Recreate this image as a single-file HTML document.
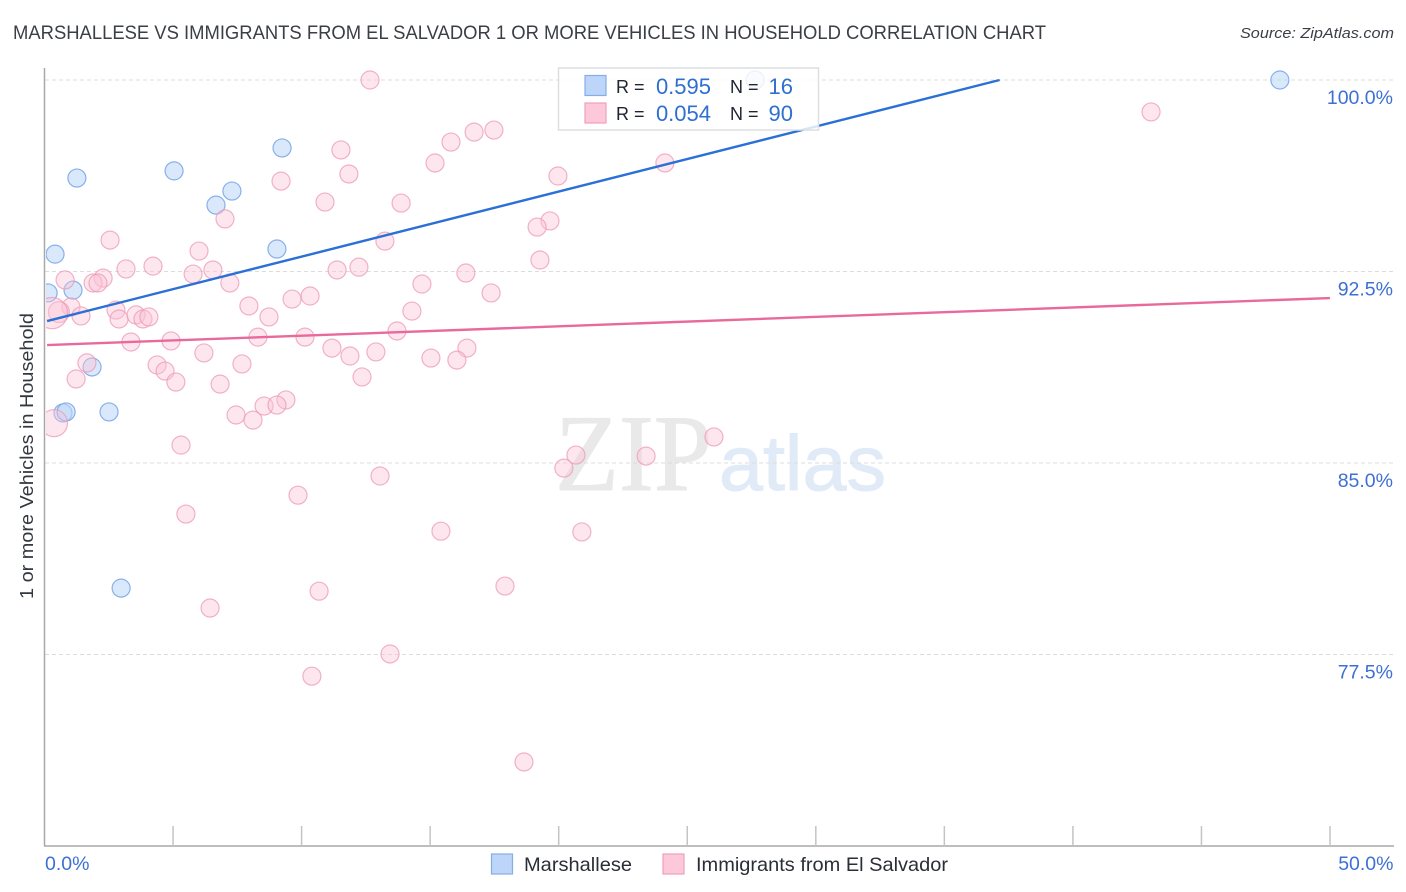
<!DOCTYPE html>
<html lang="en">
<head>
<meta charset="utf-8">
<title>Marshallese vs Immigrants from El Salvador Correlation Chart</title>
<style>
html,body{margin:0;padding:0;background:#fff;width:1406px;height:892px;overflow:hidden}
svg{display:block;font-family:"Liberation Sans",sans-serif}
</style>
</head>
<body>
<svg id="chart" xmlns="http://www.w3.org/2000/svg" width="1406" height="892" viewBox="0 0 1406 892">
  <defs>
    <clipPath id="plot-clip"><rect x="46" y="60" width="1360" height="786"/></clipPath>
  </defs>
  <text x="13" y="39" font-size="19" fill="#3a3e45" textLength="1033" lengthAdjust="spacingAndGlyphs">MARSHALLESE VS IMMIGRANTS FROM EL SALVADOR 1 OR MORE VEHICLES IN HOUSEHOLD CORRELATION CHART</text>
  <text x="1394" y="38" font-size="15" font-style="italic" fill="#3a3f47" text-anchor="end" textLength="154" lengthAdjust="spacingAndGlyphs">Source: ZipAtlas.com</text>

  <g id="watermark">
    <text x="555" y="490" font-family="'Liberation Serif',serif" font-size="109" fill="#e9e9e9" stroke="#e9e9e9" stroke-width="1" textLength="157" lengthAdjust="spacingAndGlyphs">ZIP</text>
    <text x="719" y="490" font-size="78" fill="#e1ebf8" stroke="#e1ebf8" stroke-width="1" textLength="167" lengthAdjust="spacingAndGlyphs">atlas</text>
  </g>

  <g id="grid"></g>
  <g id="axes"></g>
  <g id="points-blue" clip-path="url(#plot-clip)"></g>
  <g id="points-pink" clip-path="url(#plot-clip)"></g>
  <g id="trends"></g>
  <g id="ylabels"></g>
  <g id="xlabels"></g>

  <text transform="translate(33,456) rotate(-90)" font-size="18.5" fill="#33373e" text-anchor="middle" textLength="286" lengthAdjust="spacingAndGlyphs">1 or more Vehicles in Household</text>

  <g>
    <rect x="558.5" y="68" width="260" height="62" fill="#fff" fill-opacity="0.82" stroke="#dcdfe3" stroke-width="1.5"/>
    <rect x="585" y="75.5" width="21" height="20" fill="#bcd5f8" stroke="#85aee8" stroke-width="1.2"/>
    <rect x="585" y="103" width="21" height="20" fill="#fcc8da" stroke="#f0a0bc" stroke-width="1.2"/>
    <text x="616" y="93" font-size="18" fill="#1f2530">R =</text>
    <text x="711" y="94" font-size="22" fill="#2f6fd0" text-anchor="end">0.595</text>
    <text x="730" y="93" font-size="18" fill="#1f2530">N =</text>
    <text x="793" y="94" font-size="22" fill="#2f6fd0" text-anchor="end">16</text>
    <text x="616" y="120" font-size="18" fill="#1f2530">R =</text>
    <text x="711" y="121" font-size="22" fill="#2f6fd0" text-anchor="end">0.054</text>
    <text x="730" y="120" font-size="18" fill="#1f2530">N =</text>
    <text x="793" y="121" font-size="22" fill="#2f6fd0" text-anchor="end">90</text>
  </g>

  <g>
    <rect x="491.5" y="854" width="21" height="20" fill="#bcd5f8" stroke="#85aee8" stroke-width="1.2"/>
    <text x="524" y="871" font-size="19.5" fill="#2a2e36" textLength="108" lengthAdjust="spacingAndGlyphs">Marshallese</text>
    <rect x="663" y="854" width="21" height="20" fill="#fcc8da" stroke="#f0a0bc" stroke-width="1.2"/>
    <text x="696" y="871" font-size="19.5" fill="#2a2e36" textLength="252" lengthAdjust="spacingAndGlyphs">Immigrants from El Salvador</text>
  </g>
</svg>
<script>
var xTickValues = [0, 5, 10, 15, 20, 25, 30, 35, 40, 45, 50];
var yGridValues = [100, 92.5, 85, 77.5];
var yTickLabels = ["100.0%", "92.5%", "85.0%", "77.5%"];
var xEdgeValues = [0, 50];
var xEdgeLabels = ["0.0%", "50.0%"];

var blueX = [27.64, 48.05, 9.24, 5.04, 1.26, 7.29, 6.67, 9.04, 0.41, 0.14, 1.11, 1.85, 0.72, 0.84, 2.51, 2.98];
var blueY = [100, 100, 97.34, 96.44, 96.16, 95.65, 95.10, 93.38, 93.18, 91.66, 91.77, 88.76, 86.96, 87.0, 87.0, 80.10];

var pinkX = [12.66, 43.04, 17.48, 16.71, 15.81, 11.53, 15.19, 24.13, 11.84, 19.97, 9.2, 10.91, 13.87, 7.02, 19.66, 19.16, 13.24, 2.55, 6.01, 19.27, 3.17, 4.22, 6.55, 11.38, 12.23, 16.39, 5.78, 0.8, 2.28, 1.89, 2.08, 7.21, 14.68, 17.37, 9.63, 10.33, 7.95,
  1.03, 0.56, 0.29, 1.42, 2.78, 2.9, 3.56, 3.83, 4.06, 8.73, 14.29, 13.71, 8.3, 10.13, 3.36, 4.92, 11.18, 16.43, 6.2, 11.88, 12.89, 15.03, 16.04, 1.65, 4.38, 7.68, 4.69, 12.35, 1.23, 5.11, 6.83, 9.39, 8.54, 9.04, 7.45, 8.11, 0.37, 5.31, 26.04, 23.4, 20.67, 20.2, 13.05, 9.86, 5.5, 15.42, 20.9, 17.91, 10.68, 6.44, 13.44, 10.4, 18.65];
var pinkY = [100, 98.75, 98.04, 97.96, 97.57, 97.26, 96.75, 96.75, 96.32, 96.24, 96.04, 95.22, 95.18, 94.56, 94.48, 94.24, 93.69, 93.73, 93.3, 92.95, 92.6, 92.71, 92.56, 92.56, 92.67, 92.44, 92.4, 92.17, 92.24, 92.05, 92.05, 92.05, 92.01, 91.66, 91.42, 91.54, 91.15,
  91.11, 90.91, 90.87, 90.76, 90.99, 90.64, 90.8, 90.64, 90.72, 90.72, 90.95, 90.17, 89.93, 89.93, 89.74, 89.78, 89.5, 89.5, 89.31, 89.19, 89.35, 89.11, 89.03, 88.92, 88.84, 88.88, 88.6, 88.37, 88.29, 88.17, 88.09, 87.47, 87.23, 87.27, 86.88, 86.68, 86.56, 85.7, 86.02, 85.27, 85.31, 84.8, 84.49, 83.74, 83.0, 82.33, 82.3, 80.18, 79.98, 79.32, 77.52, 76.65, 73.29];
var pinkWeights = [1,1,1,1,1,1,1,1,1,1,1,1,1,1,1,1,1,1,1,1,1,1,1,1,1,1,1,1,1,1,1,1,1,1,1,1,1,
  1,1.35,3,1,1,1,1,1,1,1,1,1,1,1,1,1,1,1,1,1,1,1,1,1,1,1,1,1,1,1,1,1,1,1,1,1,2.25,1,1,1,1,1,1,1,1,1,1,1,1,1,1,1,1];

var blueTrendX = [0.1, 37.15];
var blueTrendY = [90.56, 100];
var pinkTrendX = [0.1, 50];
var pinkTrendY = [89.62, 91.46];

var SVGNS = "http://www.w3.org/2000/svg";
function xScale(v) { return 44.5 + (v / 50) * 1285.5; }
function yScale(v) { return 80 + ((100 - v) / 7.5) * 191.5; }
function make(tag, attrs, parent) {
  var el = document.createElementNS(SVGNS, tag);
  for (var k in attrs) { el.setAttribute(k, attrs[k]); }
  parent.appendChild(el);
  return el;
}

var gridGroup = document.getElementById("grid");
var axesGroup = document.getElementById("axes");
var blueGroup = document.getElementById("points-blue");
var pinkGroup = document.getElementById("points-pink");
var trendGroup = document.getElementById("trends");
var yLabelGroup = document.getElementById("ylabels");
var xLabelGroup = document.getElementById("xlabels");

yGridValues.forEach(function (v, i) {
  var line = make("line", {x1: 45, x2: 1394, y1: yScale(v), y2: yScale(v), stroke: "#dcdcdc", "stroke-width": 1, "stroke-dasharray": "4 3"}, gridGroup);
  
  
  var label = make("text", {x: 1393, y: yScale(v) + 24, "font-size": 19.5, fill: "#3d70d2", "text-anchor": "end"}, yLabelGroup);
  label.textContent = yTickLabels[i];
  
  
});

var yAxisLine = make("line", {x1: 44.5, x2: 44.5, y1: 68, y2: 846, stroke: "#a8a8a8", "stroke-width": 1.5}, axesGroup);


var xAxisLine = make("line", {x1: 44, x2: 1394, y1: 846, y2: 846, stroke: "#a8a8a8", "stroke-width": 1.5}, axesGroup);



xTickValues.forEach(function (v) {
  if (v === 0) { return; }
  var tick = make("line", {x1: xScale(v), x2: xScale(v), y1: 826, y2: 846, stroke: "#c4c4c4", "stroke-width": 1.5}, axesGroup);
  
  
});

xEdgeValues.forEach(function (v, i) {
  var anchor = i === 0 ? "start" : "end";
  var x = i === 0 ? xScale(v) + 0.5 : xScale(v) + 63.5;
  var label = make("text", {x: x, y: 870, "font-size": 19.5, fill: "#3d70d2", "text-anchor": anchor}, xLabelGroup);
  label.textContent = xEdgeLabels[i];
  
  
});

pinkX.forEach(function (v, i) {
  var dot = make("circle", {cx: xScale(v), cy: yScale(pinkY[i]), r: 9 * Math.sqrt(pinkWeights[i]), fill: "#fbc4d6", "fill-opacity": 0.42, stroke: "#ec9ab6", "stroke-width": 1.2, "stroke-opacity": 0.75}, pinkGroup);
  
  
});

blueX.forEach(function (v, i) {
  var dot = make("circle", {cx: xScale(v), cy: yScale(blueY[i]), r: 9, fill: "#bcd5f8", "fill-opacity": 0.55, stroke: "#7ca8e8", "stroke-width": 1.2, "stroke-opacity": 0.9}, blueGroup);
  
  
});

var blueTrend = make("line", {x1: xScale(blueTrendX[0]), y1: yScale(blueTrendY[0]), x2: xScale(blueTrendX[1]), y2: yScale(blueTrendY[1]), stroke: "#2a70d6", "stroke-width": 2.4}, trendGroup);


var pinkTrend = make("line", {x1: xScale(pinkTrendX[0]), y1: yScale(pinkTrendY[0]), x2: xScale(pinkTrendX[1]), y2: yScale(pinkTrendY[1]), stroke: "#e96a9a", "stroke-width": 2.4}, trendGroup);


</script>
</body>
</html>
